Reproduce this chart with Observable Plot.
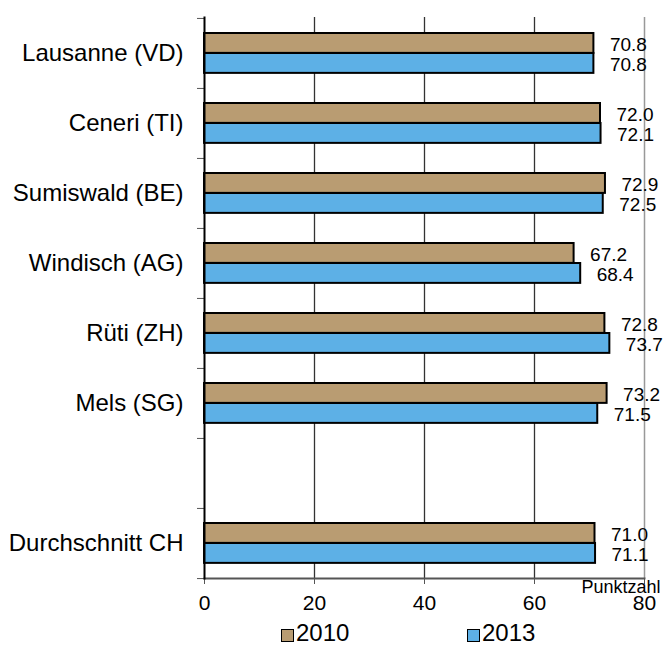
<!DOCTYPE html>
<html>
<head>
<meta charset="utf-8">
<script src="https://cdn.jsdelivr.net/npm/d3@7"></script>
<script src="https://cdn.jsdelivr.net/npm/@observablehq/plot@0.6"></script>
<style>
  html, body { margin: 0; padding: 0; background: #fff; }
  body { font-family: "Liberation Sans", Arial, sans-serif; width: 664px; height: 646px; overflow: hidden; }
  #legend { position: relative; height: 24px; font-size: 24px; line-height: 24px; color: #000; }
  .item { position: absolute; top: 0; display: flex; align-items: center; }
  .sw { width: 11px; height: 11px; border: 1.5px solid #000; margin-right: 2px; margin-top: 4px; }
</style>
</head>
<body>
<div id="chart"></div>
<div id="legend"></div>
<script>
const places = ["Lausanne (VD)", "Ceneri (TI)", "Sumiswald (BE)", "Windisch (AG)", "Rüti (ZH)", "Mels (SG)", "Durchschnitt CH"];
const yDomain = [...places.slice(0, 6), "", places[6]];
const values2010 = [70.8, 72.0, 72.9, 67.2, 72.8, 73.2, 71.0];
const values2013 = [70.8, 72.1, 72.5, 68.4, 73.7, 71.5, 71.1];
const seriesNames = ["2010", "2013"];
const seriesColors = ["#B99C72", "#5DB0E6"];
const xTicks = [0, 20, 40, 60, 80];

const d2010 = places.map((p, i) => ({category: p, value: values2010[i]}));
const d2013 = places.map((p, i) => ({category: p, value: values2013[i]}));
const step = (578 - 17) / yDomain.length;

const chart = Plot.plot({
  width: 664,
  height: 621,
  marginLeft: 204,
  marginRight: 20,
  marginTop: 17,
  marginBottom: 43,
  style: {fontFamily: "'Liberation Sans', Arial, sans-serif", color: "#000", background: "#fff"},
  x: {domain: [0, 80]},
  y: {domain: yDomain, paddingInner: 0, paddingOuter: 0},
  marks: [
    Plot.gridX({ticks: [20, 40, 60], stroke: "#333", strokeOpacity: 1, strokeWidth: 1.3}),
    Plot.gridX({ticks: [80], stroke: "#999", strokeOpacity: 1, strokeWidth: 1.5}),
    Plot.axisX({ticks: xTicks, tickSize: 6, tickPadding: 11, fontSize: 21, stroke: "#555", label: null}),
    Plot.axisY({tickSize: 0, tickPadding: 21, fontSize: 24, label: null}),
    Plot.axisY({tickSize: 7, tickFormat: () => "", dy: -step / 2, stroke: "#555", label: null}),
    Plot.axisY({ticks: [yDomain[yDomain.length - 1]], tickSize: 7, tickFormat: () => "", dy: step / 2, stroke: "#555", label: null}),
    Plot.barX(d2010, {x: "value", y: "category", fill: seriesColors[0], stroke: "#000", strokeWidth: 2, insetTop: 15, insetBottom: step - 35}),
    Plot.barX(d2013, {x: "value", y: "category", fill: seriesColors[1], stroke: "#000", strokeWidth: 2, insetTop: 35, insetBottom: step - 55}),
    Plot.text(d2010, {x: "value", y: "category", text: d => d.value.toFixed(1), dx: 16, dy: -9, textAnchor: "start", fontSize: 19, fill: "#000"}),
    Plot.text(d2013, {x: "value", y: "category", text: d => d.value.toFixed(1), dx: 16, dy: 11, textAnchor: "start", fontSize: 19, fill: "#000"}),
    Plot.frame({anchor: "bottom", stroke: "#555", strokeWidth: 2}),
    Plot.frame({anchor: "left", stroke: "#000", strokeWidth: 2}),
    Plot.text(["Punktzahl"], {frameAnchor: "bottom-right", text: d => d, dx: 16, dy: 9, textAnchor: "end", lineAnchor: "middle", fontSize: 18, fill: "#000"})
  ]
});
document.getElementById("chart").appendChild(chart);

const legend = document.getElementById("legend");
const legendX = [281, 467];
seriesNames.forEach((name, i) => {
  const item = document.createElement("div");
  item.className = "item";
  item.style.left = legendX[i] + "px";
  const sw = document.createElement("span");
  sw.className = "sw";
  sw.style.background = seriesColors[i];
  const label = document.createElement("span");
  label.textContent = name;
  item.appendChild(sw);
  item.appendChild(label);
  legend.appendChild(item);
});
</script>
</body>
</html>
